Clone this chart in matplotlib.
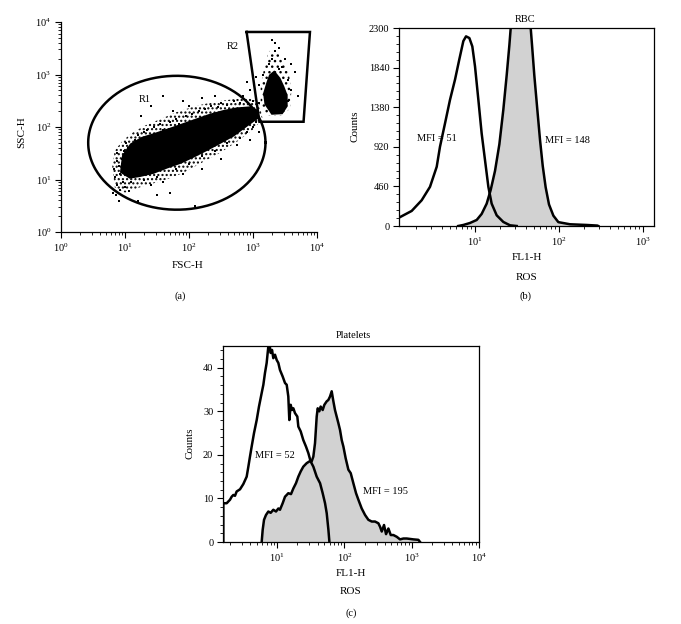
import numpy as np
import matplotlib
matplotlib.use("Agg")
import matplotlib.pyplot as plt
from matplotlib.ticker import LogLocator, LogFormatterMathtext, NullFormatter, AutoMinorLocator, FixedLocator

plt.rcParams['font.family'] = ['Liberation Serif', 'DejaVu Serif']
plt.rcParams['mathtext.fontset'] = 'custom'
plt.rcParams['mathtext.rm'] = 'Liberation Serif'
plt.rcParams['mathtext.it'] = 'Liberation Serif:italic'
plt.rcParams['hatch.linewidth'] = 1.0
plt.rcParams['hatch.color'] = 'black'

# ---------------- Panel (a): FSC-H vs SSC-H (log10 values) ----------------
core_lx = [0.98, 1.10, 1.27, 1.48, 1.70, 1.91, 2.12, 2.33, 2.54, 2.75, 2.95, 3.06,
           3.06, 2.90, 2.69, 2.48, 2.28, 2.07, 1.86, 1.65, 1.44, 1.23, 1.08, 0.95]
core_ly = [1.45, 1.66, 1.78, 1.86, 1.95, 2.04, 2.13, 2.22, 2.29, 2.34, 2.36, 2.30,
           2.18, 2.04, 1.85, 1.71, 1.58, 1.45, 1.33, 1.24, 1.14, 1.08, 1.05, 1.15]
halo_lx = [0.80, 0.84, 0.95, 1.10, 1.30, 1.55, 1.80, 2.10, 2.40, 2.70, 2.95, 3.10,
           3.15, 3.00, 2.75, 2.50, 2.20, 1.90, 1.60, 1.30, 1.00, 0.84]
halo_ly = [1.25, 1.55, 1.72, 1.88, 2.02, 2.15, 2.28, 2.40, 2.48, 2.53, 2.55, 2.45,
           2.15, 1.95, 1.72, 1.52, 1.32, 1.12, 0.98, 0.88, 0.75, 0.85]
blob2_lx = [3.27, 3.33, 3.41, 3.47, 3.52, 3.52, 3.45, 3.30, 3.20, 3.18, 3.23]
blob2_ly = [2.98, 3.04, 2.92, 2.76, 2.60, 2.40, 2.27, 2.26, 2.44, 2.64, 2.84]
halo2_lx = [3.25, 3.40, 3.55, 3.60, 3.58, 3.45, 3.20, 3.12, 3.12, 3.18]
halo2_ly = [3.45, 3.40, 3.10, 2.70, 2.35, 2.22, 2.22, 2.45, 2.80, 3.15]
sparse_lx = [0.85, 0.88, 0.90, 0.92, 0.95, 0.83, 0.87, 0.97, 1.00, 0.92, 0.98, 1.05, 0.86, 0.90, 0.82,
             1.10, 1.02, 0.95, 0.88, 1.06,
             1.15, 1.20, 1.30, 1.35, 1.45, 1.55, 1.60, 1.70, 1.80, 1.85, 1.95, 2.05, 2.15, 2.25, 2.35,
             2.45, 2.50, 2.60, 2.70, 2.80, 2.20, 1.90, 1.60, 1.40, 1.25, 2.00, 2.40, 2.30, 1.75,
             1.30, 1.50, 1.60, 1.80, 2.00, 2.20, 2.40, 2.60, 2.80, 2.90, 3.00, 2.95, 2.75, 2.50, 1.90,
             1.40, 1.70, 2.10, 1.50, 2.20, 1.20, 3.10, 3.05,
             2.85, 2.95, 3.00, 3.10, 2.90, 3.05,
             3.30, 3.35, 3.25, 3.40, 3.45, 3.55, 3.60, 3.50, 3.15, 3.10, 3.65, 3.70, 3.55, 3.35, 3.30,
             3.40, 3.60]
sparse_ly = [1.05, 0.90, 1.25, 0.80, 1.40, 1.20, 1.50, 0.95, 0.85, 1.10, 1.55, 1.60, 0.70, 0.60, 0.75,
             0.95, 1.70, 1.30, 1.35, 0.78,
             1.75, 1.85, 1.90, 1.95, 2.00, 2.05, 1.95, 2.10, 2.15, 2.05, 2.20, 2.25, 2.30, 2.35, 2.40,
             2.38, 2.45, 2.42, 2.50, 2.45, 2.55, 2.50, 2.60, 2.40, 2.20, 2.40, 2.60, 2.15, 2.30,
             1.00, 1.05, 0.95, 1.20, 1.30, 1.45, 1.55, 1.70, 1.80, 1.90, 2.00, 1.75, 1.65, 1.40, 1.10,
             0.90, 0.75, 0.50, 0.70, 1.20, 0.60, 1.90, 2.10,
             2.60, 2.70, 2.50, 2.45, 2.85, 2.95,
             3.30, 3.45, 3.20, 3.10, 3.15, 2.90, 2.70, 3.30, 3.00, 2.80, 3.05, 2.60, 2.50, 3.60, 3.65,
             3.50, 3.20]
r1_center = (1.81, 1.70)
r1_half = (1.385, 1.275)
r2_lx = [2.90, 3.89, 3.79, 3.10]
r2_ly = [3.81, 3.81, 2.10, 2.10]

# ---------------- Panel (b): RBC histograms (log10 FL1-H, counts) ----------------
rbc_ctrl_lx = [0.095, 0.246, 0.365, 0.464, 0.544, 0.583, 0.643, 0.702, 0.762, 0.813, 0.861, 0.893,
               0.933, 0.968, 1.0, 1.04, 1.079, 1.119, 1.159, 1.198, 1.258, 1.337, 1.417, 1.496]
rbc_ctrl_ct = [97, 175, 299, 455, 688, 921, 1193, 1465, 1701, 1935, 2148, 2203,
               2183, 2086, 1854, 1465, 1076, 765, 455, 260, 124, 47, 8, 0]
rbc_ros_lx = [0.80, 0.861, 0.94, 1.02, 1.079, 1.139, 1.187, 1.238, 1.29, 1.337, 1.377, 1.409, 1.433,
              1.655, 1.679, 1.706, 1.742, 1.774, 1.806, 1.841, 1.881, 1.933, 1.992, 2.131, 2.329,
              2.456, 2.468]
rbc_ros_ct = [0, 12, 35, 70, 140, 260, 420, 640, 950, 1350, 1750, 2100, 2400,
              2400, 2100, 1750, 1350, 1000, 700, 450, 250, 120, 45, 20, 12, 5, 0]
rbc_yticks = [0, 460, 920, 1380, 1840, 2300]

# ---------------- Panel (c): Platelets histograms ----------------
plt_ctrl_lx = [0.199, 0.199, 0.249, 0.273, 0.298, 0.323, 0.348, 0.372, 0.397, 0.447, 0.496, 0.546,
               0.571, 0.595, 0.620, 0.655, 0.695, 0.729, 0.769, 0.794, 0.818, 0.843, 0.868, 0.883,
               0.903, 0.923, 0.942, 0.967, 0.992, 1.017, 1.041, 1.081, 1.116, 1.141, 1.165, 1.180,
               1.200, 1.220, 1.240, 1.264, 1.299, 1.314, 1.349, 1.388, 1.428, 1.463, 1.497, 1.537,
               1.587, 1.637, 1.676, 1.711, 1.736, 1.761, 1.776]
plt_ctrl_ct = [0, 8.9, 8.9, 9.3, 9.7, 10.4, 10.8, 10.6, 11.6, 12.1, 13.3, 15.0,
               17.3, 19.6, 21.9, 25.0, 28.0, 31.1, 34.2, 36.1, 38.8, 41.1, 44.9, 45.7,
               43.4, 44.1, 42.2, 43.0, 41.8, 41.1, 39.5, 38.0, 36.5, 36.1, 33.4, 28.0,
               31.5, 30.3, 30.7, 29.6, 28.8, 26.5, 25.4, 23.4, 21.9, 20.4, 18.5, 17.3,
               15.0, 13.5, 11.2, 8.9, 6.6, 2.8, 0]
plt_ros_lx = [0.769, 0.784, 0.804, 0.833, 0.868, 0.903, 0.942, 0.982, 1.017, 1.041, 1.081, 1.116,
              1.141, 1.165, 1.205, 1.240, 1.279, 1.314, 1.349, 1.388, 1.438, 1.478, 1.512, 1.537,
              1.562, 1.587, 1.602, 1.626, 1.646, 1.676, 1.701, 1.736, 1.760, 1.785, 1.810, 1.835,
              1.859, 1.884, 1.909, 1.934, 1.959, 1.984, 2.018, 2.058, 2.093, 2.132, 2.172, 2.207,
              2.256, 2.306, 2.355, 2.405, 2.454, 2.504, 2.529, 2.554, 2.588, 2.618, 2.653, 2.688,
              2.727, 2.777, 2.826, 2.876, 2.926, 3.025, 3.099, 3.124]
plt_ros_ct = [0, 2.8, 5.1, 6.2, 7.0, 6.7, 7.4, 7.0, 7.7, 7.4, 8.9, 10.4,
              10.8, 11.2, 11.0, 12.3, 13.5, 15.0, 16.2, 17.3, 18.1, 18.5, 18.5, 19.6,
              22.7, 28.8, 30.7, 30.0, 31.1, 30.3, 31.5, 32.3, 32.6, 33.4, 34.6, 32.3,
              30.3, 28.8, 27.3, 25.7, 23.4, 21.9, 19.2, 16.6, 15.8, 13.5, 11.2, 9.7,
              7.7, 6.2, 5.1, 4.7, 4.7, 4.3, 3.5, 2.4, 3.9, 1.8, 3.1, 1.6,
              1.6, 1.2, 0.6, 0.8, 0.8, 0.6, 0.5, 0]
plt_yticks = [0, 10, 20, 30, 40]

W, H = 681, 624
fig = plt.figure(figsize=(W / 100, H / 100), dpi=100)


def rect(x0, y0, x1, y1):
    return [x0 / W, 1 - y1 / H, (x1 - x0) / W, (y1 - y0) / H]


def ftext(px, py, s, **kw):
    fig.text(px / W, 1 - py / H, s, ha='center', va='center', **kw)


def style_axes(ax):
    for s in ax.spines.values():
        s.set_linewidth(0.9)
    ax.tick_params(which='major', direction='out', length=4, width=0.8, labelsize=7.5, pad=3)
    ax.tick_params(which='minor', direction='out', length=2.2, width=0.6)


FS = 7.5

# ---- (a) ----
axa = fig.add_axes(rect(61, 22, 317, 232))
axa.set_xscale('log')
axa.set_yscale('log')
axa.set_xlim(1, 1e4)
axa.set_ylim(1, 1e4)
axa.spines['top'].set_visible(False)
axa.spines['right'].set_visible(False)
style_axes(axa)
axa.xaxis.set_major_locator(LogLocator(base=10, numticks=10))
axa.yaxis.set_major_locator(LogLocator(base=10, numticks=10))
axa.xaxis.set_major_formatter(LogFormatterMathtext())
axa.yaxis.set_major_formatter(LogFormatterMathtext())
axa.xaxis.set_minor_locator(LogLocator(base=10, subs=np.arange(2, 10), numticks=20))
axa.yaxis.set_minor_locator(LogLocator(base=10, subs=np.arange(2, 10), numticks=20))
axa.xaxis.set_minor_formatter(NullFormatter())
axa.yaxis.set_minor_formatter(NullFormatter())

axa.fill(10 ** np.array(halo_lx), 10 ** np.array(halo_ly), facecolor='none', edgecolor='black',
         hatch='....', lw=0)
axa.fill(10 ** np.array(halo2_lx), 10 ** np.array(halo2_ly), facecolor='none', edgecolor='black',
         hatch='...', lw=0)
axa.fill(10 ** np.array(core_lx), 10 ** np.array(core_ly), color='black', lw=2.5, ec='black')
axa.fill(10 ** np.array(blob2_lx), 10 ** np.array(blob2_ly), color='black', lw=2.0, ec='black')
axa.scatter(10 ** np.array(sparse_lx), 10 ** np.array(sparse_ly), s=0.8, c='black', marker='s', lw=0)
t = np.linspace(0, 2 * np.pi, 300)
axa.plot(10 ** (r1_center[0] + r1_half[0] * np.cos(t)), 10 ** (r1_center[1] + r1_half[1] * np.sin(t)),
         color='black', lw=1.8)
axa.plot(10 ** np.array(r2_lx + r2_lx[:1]), 10 ** np.array(r2_ly + r2_ly[:1]), color='black', lw=1.8,
         solid_joinstyle='miter')
axa.text(10 ** 1.31, 10 ** 2.52, 'R1', fontsize=FS, ha='center', va='center')
axa.text(10 ** 2.69, 10 ** 3.53, 'R2', fontsize=FS, ha='center', va='center')
ftext(22, 132, 'SSC-H', fontsize=8, rotation=90)
ftext(188, 265, 'FSC-H', fontsize=8)
ftext(180, 296, '(a)', fontsize=7.5)

# ---- (b) ----
axb = fig.add_axes(rect(399, 28, 654, 226))
axb.set_xscale('log')
axb.set_xlim(10 ** 0.095, 10 ** 3.131)
axb.set_ylim(0, 2300)
style_axes(axb)
axb.xaxis.set_major_locator(FixedLocator([10, 100, 1000]))
axb.xaxis.set_major_formatter(LogFormatterMathtext())
axb.xaxis.set_minor_locator(LogLocator(base=10, subs=np.arange(2, 10), numticks=20))
axb.xaxis.set_minor_formatter(NullFormatter())
axb.set_yticks(rbc_yticks)
axb.yaxis.set_minor_locator(AutoMinorLocator(5))
xr = 10 ** np.array(rbc_ros_lx)
axb.fill_between(xr, 0, rbc_ros_ct, color='#d2d2d2', lw=0)
axb.plot(xr, rbc_ros_ct, color='black', lw=1.8)
axb.plot(10 ** np.array(rbc_ctrl_lx), rbc_ctrl_ct, color='black', lw=1.8)
axb.text(10 ** 0.313, 1018, 'MFI = 51', fontsize=FS, ha='left', va='center')
axb.text(10 ** 1.833, 990, 'MFI = 148', fontsize=FS, ha='left', va='center')
ftext(525, 19, 'RBC', fontsize=7.5)
ftext(355, 126, 'Counts', fontsize=8, rotation=90)
ftext(527, 258, 'FL1-H', fontsize=8)
ftext(527, 277, 'ROS', fontsize=8)
ftext(525, 296, '(b)', fontsize=7.5)

# ---- (c) ----
axc = fig.add_axes(rect(223, 346, 479, 542))
axc.set_xscale('log')
axc.set_xlim(10 ** 0.194, 1e4)
axc.set_ylim(0, 45)
style_axes(axc)
axc.xaxis.set_major_locator(FixedLocator([10, 100, 1000, 10000]))
axc.xaxis.set_major_formatter(LogFormatterMathtext())
axc.xaxis.set_minor_locator(LogLocator(base=10, subs=np.arange(2, 10), numticks=20))
axc.xaxis.set_minor_formatter(NullFormatter())
axc.set_yticks(plt_yticks)
axc.yaxis.set_minor_locator(AutoMinorLocator(5))
xp = 10 ** np.array(plt_ros_lx)
axc.fill_between(xp, 0, plt_ros_ct, color='#d2d2d2', lw=0)
axc.plot(xp, plt_ros_ct, color='black', lw=1.8)
axc.plot(10 ** np.array(plt_ctrl_lx), plt_ctrl_ct, color='black', lw=1.8)
axc.text(10 ** 0.670, 19.8, 'MFI = 52', fontsize=FS, ha='left', va='center')
axc.text(10 ** 2.271, 11.6, 'MFI = 195', fontsize=FS, ha='left', va='center')
ftext(353, 335, 'Platelets', fontsize=7.5)
ftext(190, 443, 'Counts', fontsize=8, rotation=90)
ftext(351, 573, 'FL1-H', fontsize=8)
ftext(351, 592, 'ROS', fontsize=8)
ftext(351, 613, '(c)', fontsize=7.5)

fig.savefig('out.png', dpi=100)
